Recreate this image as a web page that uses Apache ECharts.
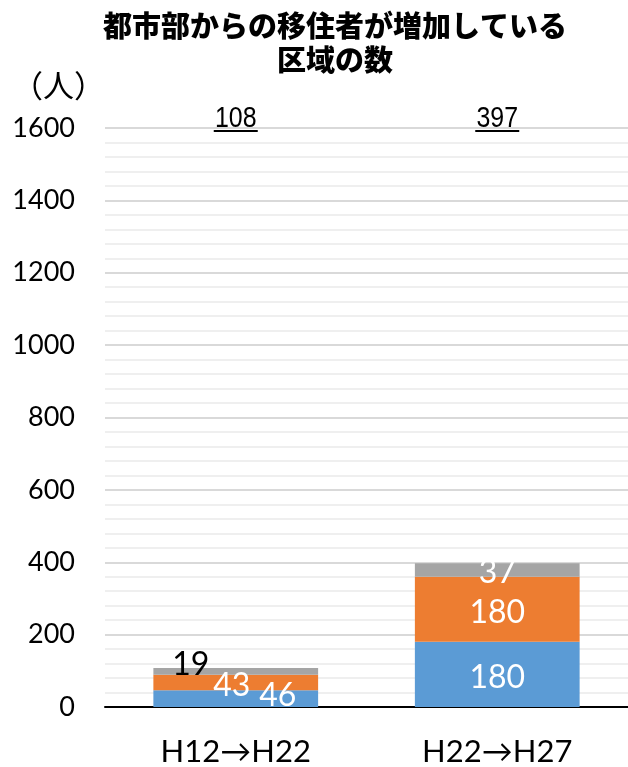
<!DOCTYPE html>
<html>
<head>
<meta charset="utf-8">
<script src="https://cdn.jsdelivr.net/npm/echarts@6/dist/echarts.min.js"></script>
<style>
  html, body { margin: 0; padding: 0; background: #fff; }
  #chart { width: 628px; height: 767px; }
</style>
</head>
<body>
<div id="chart"></div>
<script>
// Periods compared
const categories = ['H12→H22', 'H22→H27'];
// Stacked segments (people), bottom to top
const blueValues = [46, 180];
const orangeValues = [43, 180];
const grayValues = [19, 37];
// Value axis range
const yMax = 1600;
const yStep = 200;

const totals = categories.map((_, i) => blueValues[i] + orangeValues[i] + grayValues[i]);

const numFont = "Lato, 'Open Sans', sans-serif";
const cjkFont = "'Noto Sans CJK JP', 'Noto Sans', sans-serif";

// Segment label placement per category (first bar has its labels nudged sideways)
const blueLabelStyle = [{ dx: 42, dy: -3, color: '#fff' }, { dx: 0, dy: 3, color: '#fff' }];
const orangeLabelStyle = [{ dx: -4, dy: 3, color: '#fff' }, { dx: 0, dy: 3, color: '#fff' }];
const grayLabelStyle = [{ dx: -45, dy: -7, color: '#000' }, { dx: 0, dy: 3, color: '#fff' }];

const segments = [
  { name: 'blue', values: blueValues, color: '#5b9bd5', labels: blueLabelStyle },
  { name: 'orange', values: orangeValues, color: '#ed7d31', labels: orangeLabelStyle },
  { name: 'gray', values: grayValues, color: '#a5a5a5', labels: grayLabelStyle }
];

// Stacked bars
const barSeries = segments.map((s) => ({
  type: 'bar',
  name: s.name,
  stack: 'total',
  barWidth: '63%',
  itemStyle: { color: s.color },
  data: s.values
}));

// Value labels centred on each stacked segment, drawn on top of all bars
const labelSeries = segments.map((s, k) => ({
  type: 'custom',
  silent: true,
  z: 20,
  data: s.values.map((v, i) => {
    let base = 0;
    for (let j = 0; j < k; j++) base += segments[j].values[i];
    return [i, base, v];
  }),
  renderItem: function (params, api) {
    const i = api.value(0), base = api.value(1), v = api.value(2);
    const p = api.coord([i, base + v / 2]);
    const st = s.labels[params.dataIndex];
    return {
      type: 'text',
      z2: 100,
      style: {
        text: String(v),
        x: p[0] + st.dx,
        y: p[1] + st.dy,
        align: 'center',
        verticalAlign: 'middle',
        fill: st.color,
        font: "32px " + numFont
      }
    };
  }
}));

// Underlined totals above each bar
const totalSeries = {
  type: 'custom',
  silent: true,
  z: 20,
  data: totals.map((t, i) => [i, t]),
  renderItem: function (params, api) {
    const p = api.coord([api.value(0), yMax]);
    const txt = String(api.value(1));
    return {
      type: 'group',
      children: [
        {
          type: 'text',
          x: p[0],
          y: p[1] - 9,
          scaleX: 0.86,
          style: {
            text: txt,
            x: 0, y: 0,
            align: 'center', verticalAlign: 'middle',
            fill: '#000',
            font: "29px 'Liberation Sans', Arial, sans-serif"
          }
        },
        {
          type: 'line',
          shape: { x1: p[0] - 22, y1: p[1] + 3, x2: p[0] + 22, y2: p[1] + 3 },
          style: { stroke: '#000', lineWidth: 2 }
        }
      ]
    };
  }
};

const chart = echarts.init(document.getElementById('chart'));
chart.setOption({
  animation: false,
  backgroundColor: '#fff',
  title: {
    text: '都市部からの移住者が増加している\n区域の数',
    left: 330,
    top: 4,
    textAlign: 'center',
    textStyle: {
      fontFamily: cjkFont,
      fontWeight: 900,
      fontSize: 29,
      lineHeight: 34,
      color: '#000'
    }
  },
  grid: { left: 105, right: 0, top: 128, bottom: 60 },
  xAxis: {
    type: 'category',
    data: categories,
    axisLine: { lineStyle: { color: '#000', width: 2 } },
    axisTick: { show: false },
    axisLabel: { color: '#000', fontSize: 31, fontFamily: numFont, margin: 29 }
  },
  yAxis: {
    type: 'value',
    min: 0,
    max: yMax,
    interval: yStep,
    name: '（人）',
    nameLocation: 'end',
    nameGap: 27,
    nameTextStyle: { color: '#000', fontSize: 31, fontFamily: cjkFont, align: 'right', padding: [0, 0, 0, 0] },
    axisLine: { show: false },
    axisTick: { show: false },
    axisLabel: {
      color: '#000', fontSize: 27, fontFamily: numFont, margin: 30,
      formatter: (v) => String(v)
    },
    splitLine: { lineStyle: { color: '#d9d9d9', width: 2 } },
    minorTick: { show: false, splitNumber: 5 },
    minorSplitLine: { show: true, lineStyle: { color: '#efefef', width: 2 } }
  },
  series: barSeries.concat(labelSeries, [totalSeries])
});
</script>
</body>
</html>
